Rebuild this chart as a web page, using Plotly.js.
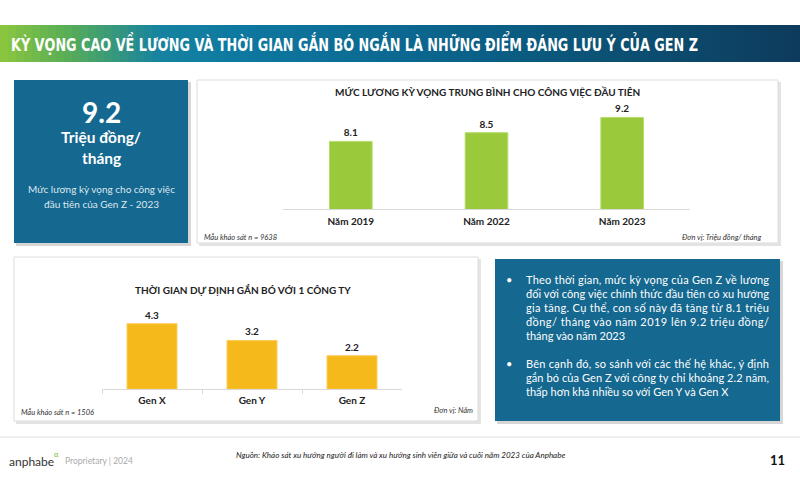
<!DOCTYPE html>
<html>
<head>
<meta charset="utf-8">
<script src="https://cdn.plot.ly/plotly-3.0.1.min.js"></script>
<style>html,body{margin:0;padding:0;background:#fff;}#chart{width:800px;height:500px;}</style>
</head>
<body>
<div id="chart"></div>
<script>
// ---- data ----
var salaryYears = ["Năm 2019", "Năm 2022", "Năm 2023"];
var salaryValues = [8.1, 8.5, 9.2];
var tenureGroups = ["Gen X", "Gen Y", "Gen Z"];
var tenureValues = [4.3, 3.2, 2.2];

var headerTitle = "KỲ VỌNG CAO VỀ LƯƠNG VÀ THỜI GIAN GẮN BÓ NGẮN LÀ NHỮNG ĐIỂM ĐÁNG LƯU Ý CỦA GEN Z";
var salaryTitle = "MỨC LƯƠNG KỲ VỌNG TRUNG BÌNH CHO CÔNG VIỆC ĐẦU TIÊN";
var tenureTitle = "THỜI GIAN DỰ ĐỊNH GẮN BÓ VỚI 1 CÔNG TY";
var kpiValue = "9.2";
var kpiUnitLines = ["Triệu đồng/", "tháng"];
var kpiNoteLines = ["Mức lương kỳ vọng cho công việc", "đầu tiên của Gen Z - 2023"];
var bullet1 = ["Theo thời gian, mức kỳ vọng của Gen Z về lương",
  "đối với công việc chính thức đầu tiên có xu hướng",
  "gia tăng. Cụ thể, con số này đã tăng từ 8.1 triệu",
  "đồng/ tháng vào năm 2019 lên 9.2 triệu đồng/",
  "tháng vào năm 2023"];
var bullet2 = ["Bên cạnh đó, so sánh với các thế hệ khác, ý định",
  "gắn bó của Gen Z với công ty chỉ khoảng 2.2 năm,",
  "thấp hơn khá nhiều so với Gen Y và Gen X"];
var sourceText = "Nguồn: Khảo sát xu hướng người đi làm và xu hướng sinh viên giữa và cuối năm 2023 của Anphabe";

// ---- helpers ----
var W = 800, H = 500;
function X(px){ return px / W; }
function Y(py){ return 1 - py / H; }
var BODY = "Lato, 'Open Sans', sans-serif";
var BLUE = "#15688f";

var shapes = [];
var annotations = [];
var fitTexts = []; // [text, targetWidth, adjustMode, verticalScale]
function rect(x0, y0, x1, y1, fill, line, lw){
  shapes.push({type:"rect", xref:"paper", yref:"paper", x0:X(x0), x1:X(x1), y0:Y(y1), y1:Y(y0),
    fillcolor: fill, line:{color: line || fill, width: lw === undefined ? 0 : lw}, layer:"below"});
}
function text(t, x, y, size, color, opts){
  opts = opts || {};
  annotations.push({xref:"paper", yref:"paper", x:X(x), y:Y(y), text:t, showarrow:false,
    xanchor: opts.xanchor || "center", yanchor:"middle", align: opts.align || "center", borderpad:0,
    font:{family: opts.family || BODY, size:size, color:color, weight: opts.weight || "normal", style: opts.style || "normal"}});
}

// header gradient
var stops = [[0, [141,198,63]], [0.08, [90,175,85]], [0.2, [22,130,160]], [0.3, [14,120,160]], [0.55, [11,100,140]], [0.8, [12,78,112]], [1, [13,58,92]]];
function colAt(t){
  for (var i = 1; i < stops.length; i++){
    if (t <= stops[i][0]){
      var a = stops[i-1], b = stops[i], f = (t - a[0]) / (b[0] - a[0]);
      var c = a[1].map(function(v, k){ return Math.round(v + (b[1][k] - v) * f); });
      return "rgb(" + c.join(",") + ")";
    }
  }
  return "rgb(13,58,92)";
}
var N = 100;
for (var i = 0; i < N; i++){
  rect(i * W / N, 25, (i + 1) * W / N + 0.6, 62, colAt((i + 0.5) / N));
}
text(headerTitle, 10, 44, 12.5, "#ffffff", {xanchor:"left", align:"left", weight:"bold", family:"'DejaVu Sans', sans-serif"});
fitTexts.push([headerTitle, 687, "spacingAndGlyphs", 1.4]);

// panel shadows and boxes
rect(16, 82, 191, 246, "#d6d6d6");
rect(14, 80, 188, 243, BLUE);
rect(199, 82, 781, 246, "#e4e4e4");
rect(197, 80, 778, 243, "#ffffff", "#dddddd", 1);
rect(16, 259, 481, 424, "#e4e4e4");
rect(14, 257, 478, 421, "#ffffff", "#dddddd", 1);
rect(497, 261, 783, 424, "#d6d6d6");
rect(495, 259, 780, 421, BLUE);
// footer separator
shapes.push({type:"line", xref:"paper", yref:"paper", x0:0, x1:1, y0:Y(437), y1:Y(437), line:{color:"#eeeeee", width:2}});

// KPI box
text(kpiValue, 101, 112, 28, "#ffffff", {weight:"bold"});
text(kpiUnitLines[0], 101, 137, 15.5, "#ffffff", {weight:"bold"});
text(kpiUnitLines[1], 101, 158, 15.5, "#ffffff", {weight:"bold"});
text(kpiNoteLines[0], 101, 189, 10, "#dce7ef");
text(kpiNoteLines[1], 101, 204, 10, "#dce7ef");

// chart titles and notes
text(salaryTitle, 487, 92, 10, "#222222", {weight:"bold"});
text("Mẫu khảo sát n = 9638", 203, 237, 7.5, "#333333", {xanchor:"left", style:"italic"});
text("Đơn vị: Triệu đồng/ tháng", 763, 237, 7.5, "#333333", {xanchor:"right", style:"italic"});
text(tenureTitle, 243, 290, 10, "#222222", {weight:"bold"});
text("Mẫu khảo sát n = 1506", 20, 412, 7.5, "#333333", {xanchor:"left", style:"italic"});
text("Đơn vị: Năm", 474, 410, 7.5, "#333333", {xanchor:"right", style:"italic"});

// bullets
function bulletBlock(lines, y0){
  text("•", 509, y0, 11, "#ffffff", {xanchor:"center"});
  lines.forEach(function(l, k){
    text(l, 525, y0 + k * 14, 11, "#ffffff", {xanchor:"left", align:"left"});
    if (k < lines.length - 1) fitTexts.push([l, 243, "spacing", 1]);
  });
}
bulletBlock(bullet1, 279);
bulletBlock(bullet2, 363);

// footer
text("anphabe", 8, 461, 12, "#333333", {xanchor:"left"});
text("α", 53, 454, 7.5, "#7cb342", {xanchor:"left"});
text("Proprietary | 2024", 64, 461, 8.5, "#aaaaaa", {xanchor:"left"});
text(sourceText, 400, 455, 8, "#222222", {style:"italic"});
text("11", 786, 460, 13, "#111111", {xanchor:"right", weight:"bold"});

var traces = [
  {type:"bar", x:salaryYears, y:salaryValues, xaxis:"x", yaxis:"y", width:0.314,
   marker:{color:"#9bc93c", line:{color:"#b6dc6a", width:1}},
   text:salaryValues.map(function(v){ return v.toFixed(1); }), textposition:"outside",
   textfont:{family:BODY, size:10, color:"#222222", weight:"bold"}, cliponaxis:false, hoverinfo:"skip"},
  {type:"bar", x:tenureGroups, y:tenureValues, xaxis:"x2", yaxis:"y2", width:0.5,
   marker:{color:"#f6b91c", line:{color:"#f9cf5c", width:1}},
   text:tenureValues.map(function(v){ return v.toFixed(1); }), textposition:"outside",
   textfont:{family:BODY, size:10, color:"#222222", weight:"bold"}, cliponaxis:false, hoverinfo:"skip"}
];

var layout = {
  width:W, height:H, margin:{l:0, r:0, t:0, b:0}, paper_bgcolor:"#ffffff", plot_bgcolor:"rgba(0,0,0,0)",
  showlegend:false,
  xaxis:{domain:[X(283), X(690)], anchor:"y", showline:true, linecolor:"#d9d9d9", linewidth:1,
    ticks:"", ticklabelstandoff:3, tickfont:{family:BODY, size:10, color:"#222222", weight:"bold"}, fixedrange:true},
  yaxis:{domain:[Y(209), Y(100)], anchor:"x", range:[5, 10], visible:false, fixedrange:true},
  xaxis2:{domain:[X(102), X(402)], anchor:"y2", showline:true, linecolor:"#d9d9d9", linewidth:1,
    ticks:"outside", tickson:"boundaries", ticklen:4, tickcolor:"#d9d9d9", ticklabelstandoff:2,
    tickfont:{family:BODY, size:10, color:"#222222", weight:"bold"}, fixedrange:true},
  yaxis2:{domain:[Y(389.3), Y(313)], anchor:"x2", range:[0, 5], visible:false, fixedrange:true},
  shapes:shapes, annotations:annotations
};

Plotly.newPlot("chart", traces, layout, {displayModeBar:false, staticPlot:true}).then(function(){
  var nodes = document.querySelectorAll(".annotation-text");
  nodes.forEach(function(n){
    fitTexts.forEach(function(f){
      if (n.textContent === f[0]){
        n.setAttribute("textLength", f[1]);
        n.setAttribute("lengthAdjust", f[2]);
        var g = n.closest(".annotation-text-g") || n.parentNode;
        g.querySelectorAll("rect").forEach(function(r){ r.setAttribute("width", f[1]); });
        if (f[3] && f[3] !== 1){
          var bb = n.getBBox();
          var cy = bb.y + bb.height / 2;
          var prev = n.getAttribute("transform") || "";
          n.setAttribute("transform", prev + " translate(0," + cy + ") scale(1," + f[3] + ") translate(0," + (-cy) + ")");
        }
      }
    });
  });
});
</script>
</body>
</html>
